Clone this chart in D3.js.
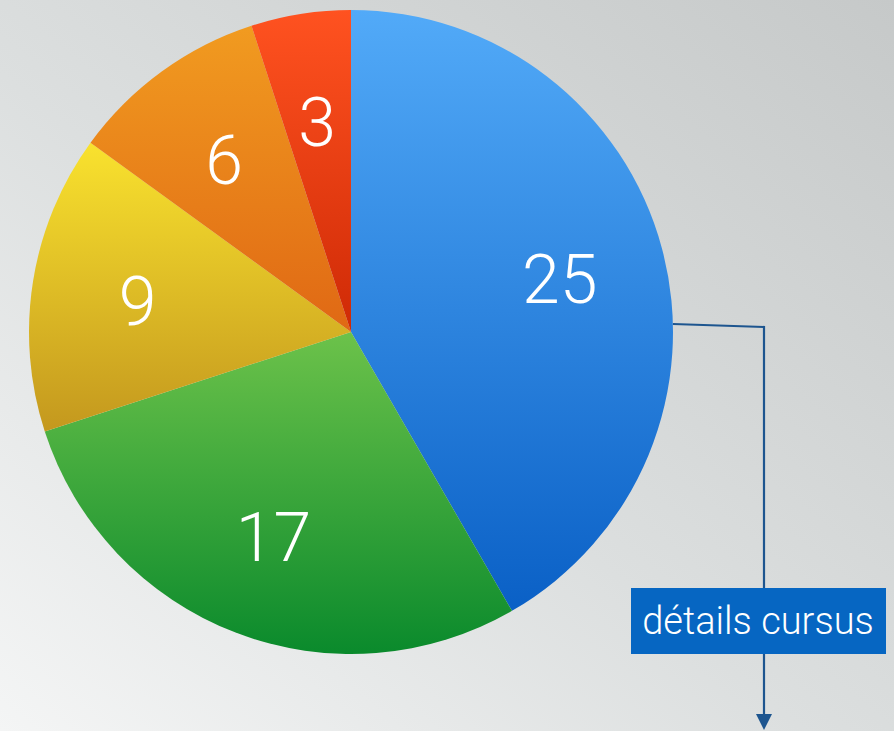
<html>
<head>
<style>
  body { margin: 0; overflow: hidden; }
  svg { display: block; }
  .lbl { font-family: Roboto, "Open Sans", sans-serif; font-weight: 300; fill: #fff; }
</style>
</head>
<body>
<svg class="svg"></svg>
<script src="https://d3js.org/d3.v7.min.js"></script>
<script>
    var width = 894, height = 731;

    // data
    var values = [25, 17, 9, 6, 3];
    var topColors = ["#52aaf8", "#6cc24a", "#f9e22e", "#f19b20", "#ff5220"];
    var bottomColors = ["#0a60c6", "#0a8a2c", "#c4981e", "#e06814", "#cf2a06"];
    var calloutText = "détails cursus";

    var svg = d3.select("svg")
        .attr("width", width)
        .attr("height", height)
        .attr("viewBox", "0 0 " + width + " " + height);

    var defs = svg.append("defs");

    // background
    var bg = defs.append("linearGradient")
        .attr("id", "bg")
        .attr("x1", 0).attr("y1", 1).attr("x2", 1).attr("y2", 0);
    bg.append("stop").attr("offset", "0%").attr("stop-color", "#f4f5f5");
    bg.append("stop").attr("offset", "45%").attr("stop-color", "#dcdfdf");
    bg.append("stop").attr("offset", "100%").attr("stop-color", "#c6c9c9");

    svg.append("rect")
        .attr("width", width)
        .attr("height", height)
        .attr("fill", "url(#bg)");

    // slice gradients
    values.forEach(function(v, i) {
        var g = defs.append("linearGradient")
            .attr("id", "slice" + i)
            .attr("x1", 0).attr("y1", 0).attr("x2", 0).attr("y2", 1);
        g.append("stop").attr("offset", "0%").attr("stop-color", topColors[i]);
        g.append("stop").attr("offset", "100%").attr("stop-color", bottomColors[i]);
    });

    var cx = 351, cy = 332, radius = 322;

    var pie = d3.pie().sort(null).value(d => d);
    var arcs = pie(values);
    var arc = d3.arc().innerRadius(0).outerRadius(radius);
    var labelArc = d3.arc().innerRadius(216).outerRadius(216);

    var g = svg.append("g")
        .attr("transform", "translate(" + cx + "," + cy + ")");

    g.selectAll("path")
        .data(arcs)
        .enter()
        .append("path")
        .attr("d", arc)
        .attr("fill", (d, i) => "url(#slice" + i + ")");

    g.selectAll("text")
        .data(arcs)
        .enter()
        .append("text")
        .attr("class", "lbl")
        .attr("transform", d => {
            var c = labelArc.centroid(d);
            return "translate(" + c[0] + "," + (c[1] + 4) + ")";
        })
        .attr("text-anchor", "middle")
        .attr("dominant-baseline", "central")
        .style("font-size", "68px")
        .text(d => d.data);

    // callout line
    var lineColor = "#1d558f";
    var ly = 324;
    var lx = cx + Math.sqrt(radius * radius - (ly - cy) * (ly - cy));
    var line = d3.line();
    svg.append("path")
        .attr("d", line([[lx, ly], [764, 327], [764, 715]]))
        .attr("fill", "none")
        .attr("stroke", lineColor)
        .attr("stroke-width", 2.2);

    svg.append("path")
        .attr("d", line([[756, 714], [772, 714], [764, 730]]) + "Z")
        .attr("fill", lineColor);

    // callout box
    svg.append("rect")
        .attr("x", 631)
        .attr("y", 588)
        .attr("width", 255)
        .attr("height", 66)
        .attr("fill", "#0666c2");

    svg.append("text")
        .attr("class", "lbl")
        .attr("x", 758)
        .attr("y", 634)
        .attr("text-anchor", "middle")
        .style("font-size", "38px")
        .text(calloutText);
</script>
</body>
</html>
